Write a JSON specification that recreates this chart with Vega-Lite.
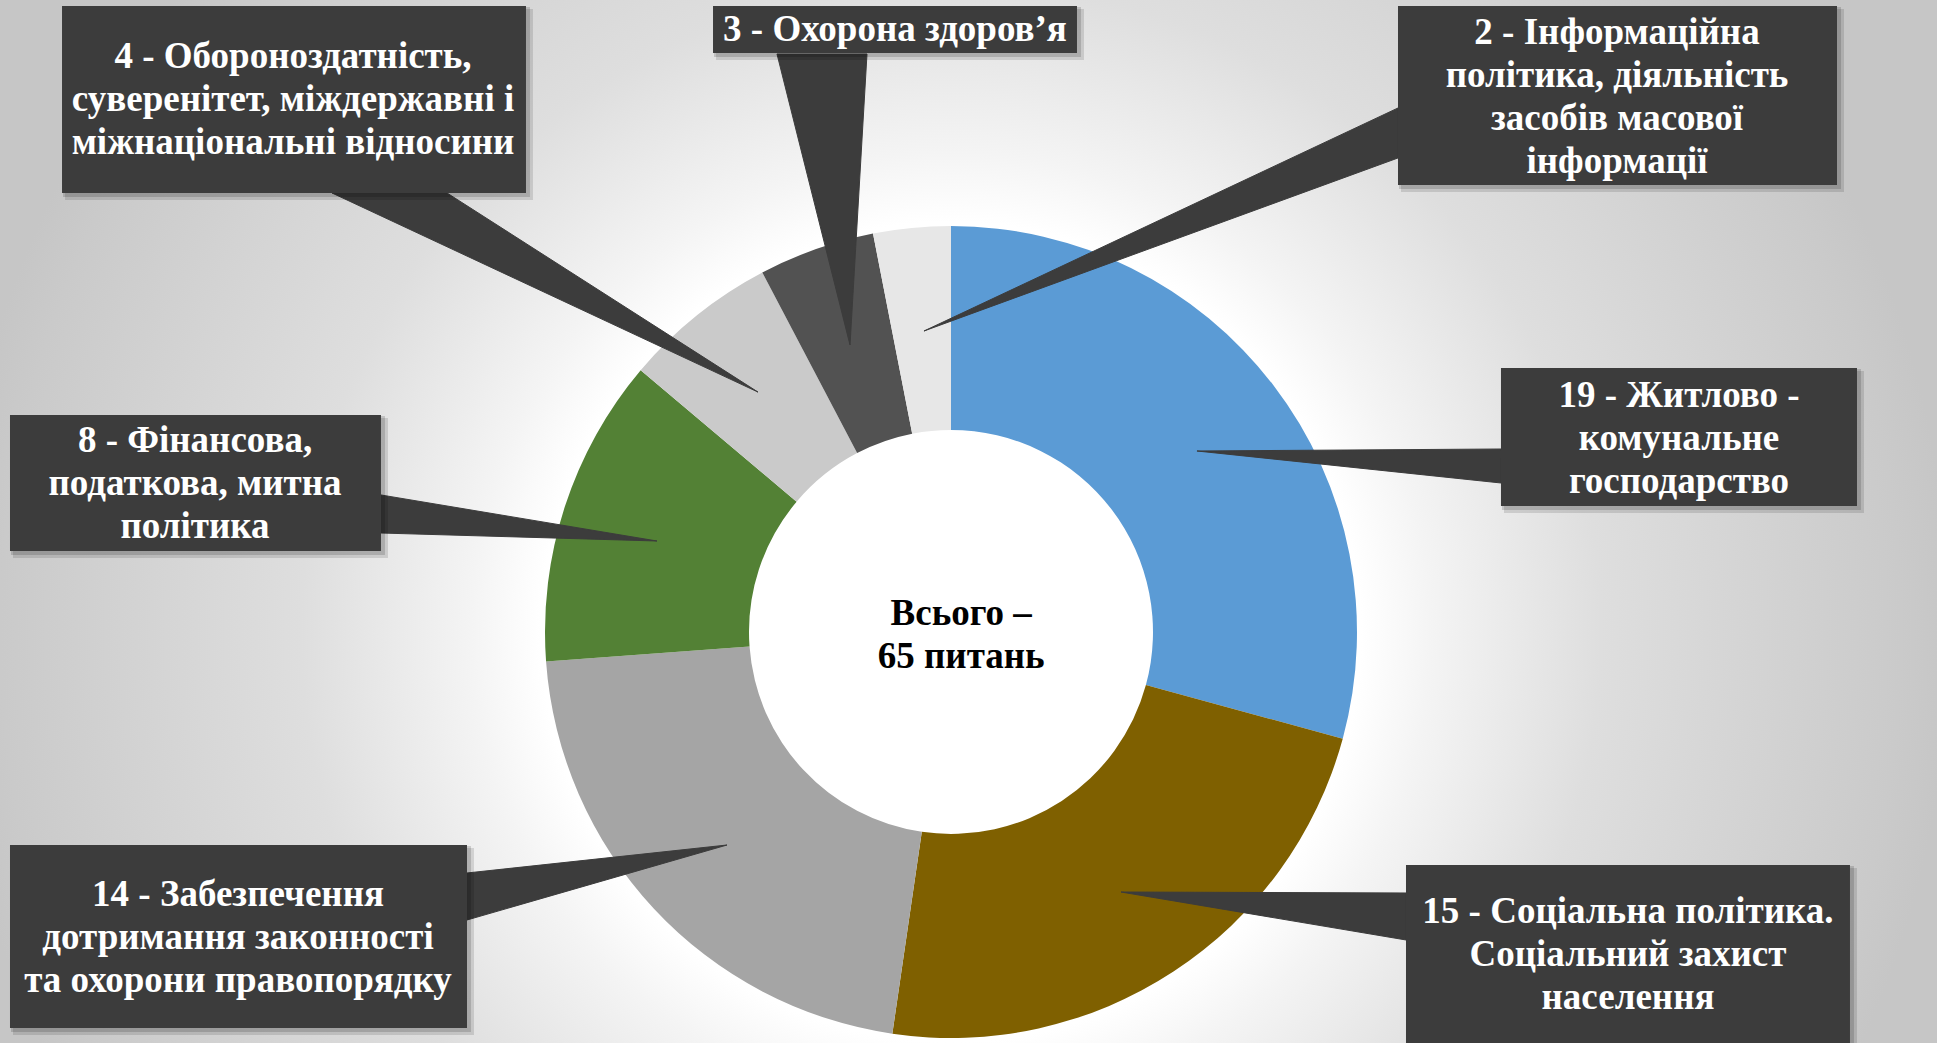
{
  "$schema": "https://vega.github.io/schema/vega-lite/v6.json",
  "width": 1937,
  "height": 1043,
  "autosize": {"type": "none"},
  "padding": 0,
  "background": "#ffffff",
  "config": {"view": {"stroke": null}},
  "datasets": {
    "slices": [
      {"cat": "Житлово-комунальне господарство", "value": 19},
      {"cat": "Соціальна політика. Соціальний захист населення", "value": 15},
      {"cat": "Забезпечення дотримання законності та охорони правопорядку", "value": 14},
      {"cat": "Фінансова, податкова, митна політика", "value": 8},
      {"cat": "Обороноздатність, суверенітет, міждержавні і міжнаціональні відносини", "value": 4},
      {"cat": "Охорона здоров’я", "value": 3},
      {"cat": "Інформаційна політика, діяльність засобів масової інформації", "value": 2}
    ],
    "boxes": [
      {"id": "2", "x1": 109.56, "x2": 217.16, "y1": 153.43, "y2": 109.56, "tx": 163.24, "ty": 146.8, "label": "2 - Інформаційна\nполітика, діяльність\nзасобів масової\nінформації"},
      {"id": "3", "x1": -58.33, "x2": 30.88, "y1": 153.43, "y2": 141.91, "tx": -13.73, "ty": 147.55, "label": "3 - Охорона здоров’я"},
      {"id": "4", "x1": -217.89, "x2": -104.17, "y1": 153.43, "y2": 107.6, "tx": -161.27, "ty": 140.9, "label": "4 - Обороноздатність,\nсуверенітет, міждержавні і\nміжнаціональні відносини"},
      {"id": "19", "x1": 134.8, "x2": 222.06, "y1": 64.71, "y2": 30.88, "tx": 178.43, "ty": 57.8, "label": "19 - Житлово -\nкомунальне\nгосподарство"},
      {"id": "8", "x1": -230.64, "x2": -139.71, "y1": 53.19, "y2": 19.85, "tx": -185.29, "ty": 46.8, "label": "8 - Фінансова,\nподаткова, митна\nполітика"},
      {"id": "14", "x1": -230.64, "x2": -118.63, "y1": -52.21, "y2": -97.06, "tx": -174.75, "ty": -64.5, "label": "14 - Забезпечення\nдотримання законності\nта охорони правопорядку"},
      {"id": "15", "x1": 111.52, "x2": 220.34, "y1": -57.11, "y2": -100.74, "tx": 165.93, "ty": -68.6, "label": "15 - Соціальна політика.\nСоціальний захист\nнаселення"}
    ],
    "pointers": [
      {"id": "2", "k": 1, "px": 109.56, "py": 128.43},
      {"id": "2", "k": 2, "px": -6.62, "py": 73.77},
      {"id": "2", "k": 3, "px": 109.56, "py": 116.18},
      {"id": "3", "k": 1, "px": -42.65, "py": 141.67},
      {"id": "3", "k": 2, "px": -24.75, "py": 70.34},
      {"id": "3", "k": 3, "px": -20.59, "py": 141.67},
      {"id": "4", "k": 1, "px": -151.72, "py": 107.6},
      {"id": "4", "k": 2, "px": -47.3, "py": 58.8},
      {"id": "4", "k": 3, "px": -123.53, "py": 107.6},
      {"id": "19", "k": 1, "px": 134.8, "py": 44.85},
      {"id": "19", "k": 2, "px": 60.29, "py": 44.36},
      {"id": "19", "k": 3, "px": 134.8, "py": 36.52},
      {"id": "15", "k": 1, "px": 111.52, "py": -63.97},
      {"id": "15", "k": 2, "px": 41.67, "py": -63.73},
      {"id": "15", "k": 3, "px": 111.52, "py": -75.49},
      {"id": "14", "k": 1, "px": -118.63, "py": -59.07},
      {"id": "14", "k": 2, "px": -54.9, "py": -52.21},
      {"id": "14", "k": 3, "px": -118.63, "py": -70.59},
      {"id": "8", "k": 1, "px": -139.71, "py": 33.58},
      {"id": "8", "k": 2, "px": -72.06, "py": 22.3},
      {"id": "8", "k": 3, "px": -139.71, "py": 24.26}
    ],
    "center": [
      {"label": "Всього –\n65 питань"}
    ]
  },
  "layer": [
    {
      "data": {"values": [{}]},
      "mark": {
        "type": "rect",
        "clip": true,
        "fill": {
          "gradient": "radial",
          "x1": 0.5, "y1": 0.5, "r1": 0,
          "x2": 0.5, "y2": 0.5, "r2": 0.5,
          "stops": [
            {"offset": 0, "color": "#ffffff"},
            {"offset": 0.41, "color": "#ffffff"},
            {"offset": 0.48, "color": "#f4f4f4"},
            {"offset": 0.65, "color": "#dedede"},
            {"offset": 0.95, "color": "#cacaca"},
            {"offset": 1, "color": "#c6c6c6"}
          ]
        }
      },
      "encoding": {
        "x": {"datum": -245.1, "type": "quantitative", "scale": {"domain": [-233.09, 241.67], "nice": false, "zero": false}, "axis": null},
        "x2": {"datum": 245.1},
        "y": {"datum": 245.1, "type": "quantitative", "scale": {"domain": [-100.74, 154.9], "nice": false, "zero": false}, "axis": null},
        "y2": {"datum": -245.1}
      }
    },
    {
      "data": {"name": "slices"},
      "mark": {"type": "arc", "radius": 406, "radius2": 202},
      "encoding": {
        "theta": {"field": "value", "type": "quantitative", "stack": true},
        "order": {"field": "value", "sort": "descending"},
        "color": {
          "field": "cat",
          "type": "nominal",
          "legend": null,
          "scale": {
            "domain": [
              "Житлово-комунальне господарство",
              "Соціальна політика. Соціальний захист населення",
              "Забезпечення дотримання законності та охорони правопорядку",
              "Фінансова, податкова, митна політика",
              "Обороноздатність, суверенітет, міждержавні і міжнаціональні відносини",
              "Охорона здоров’я",
              "Інформаційна політика, діяльність засобів масової інформації"
            ],
            "range": ["#5b9bd5", "#7f6000", "#a5a5a5", "#538135", "#cacaca", "#525252", "#e7e7e7"]
          }
        },
        "x": {"datum": 0, "type": "quantitative", "scale": {"domain": [-233.09, 241.67], "nice": false, "zero": false}, "axis": null},
        "y": {"datum": 0, "type": "quantitative", "scale": {"domain": [-100.74, 154.9], "nice": false, "zero": false}, "axis": null}
      }
    },
    {
      "data": {"name": "pointers"},
      "mark": {"type": "line", "interpolate": "linear-closed", "fill": "#3c3c3c", "stroke": "#3c3c3c", "strokeWidth": 1},
      "encoding": {
        "x": {"field": "px", "type": "quantitative", "scale": {"domain": [-233.09, 241.67], "nice": false, "zero": false}, "axis": null},
        "y": {"field": "py", "type": "quantitative", "scale": {"domain": [-100.74, 154.9], "nice": false, "zero": false}, "axis": null},
        "detail": {"field": "id", "type": "nominal"},
        "order": {"field": "k", "type": "quantitative"}
      }
    },
    {
      "data": {"name": "boxes"},
      "mark": {"type": "rect", "fill": "#000000", "opacity": 0.12, "xOffset": 3, "x2Offset": 7, "yOffset": 3, "y2Offset": 7},
      "encoding": {
        "x": {"field": "x1", "type": "quantitative", "scale": {"domain": [-233.09, 241.67], "nice": false, "zero": false}, "axis": null},
        "x2": {"field": "x2"},
        "y": {"field": "y1", "type": "quantitative", "scale": {"domain": [-100.74, 154.9], "nice": false, "zero": false}, "axis": null},
        "y2": {"field": "y2"}
      }
    },
    {
      "data": {"name": "boxes"},
      "mark": {"type": "rect", "fill": "#000000", "opacity": 0.15, "xOffset": 1, "x2Offset": 4, "yOffset": 1, "y2Offset": 4},
      "encoding": {
        "x": {"field": "x1", "type": "quantitative", "scale": {"domain": [-233.09, 241.67], "nice": false, "zero": false}, "axis": null},
        "x2": {"field": "x2"},
        "y": {"field": "y1", "type": "quantitative", "scale": {"domain": [-100.74, 154.9], "nice": false, "zero": false}, "axis": null},
        "y2": {"field": "y2"}
      }
    },
    {
      "data": {"name": "boxes"},
      "mark": {"type": "rect", "fill": "#3c3c3c"},
      "encoding": {
        "x": {"field": "x1", "type": "quantitative", "scale": {"domain": [-233.09, 241.67], "nice": false, "zero": false}, "axis": null},
        "x2": {"field": "x2"},
        "y": {"field": "y1", "type": "quantitative", "scale": {"domain": [-100.74, 154.9], "nice": false, "zero": false}, "axis": null},
        "y2": {"field": "y2"}
      }
    },
    {
      "data": {"name": "boxes"},
      "mark": {"type": "text", "lineBreak": "\n", "font": "Liberation Serif", "fontWeight": "bold", "fontSize": 37, "lineHeight": 43, "fill": "#ffffff", "align": "center", "baseline": "middle"},
      "encoding": {
        "x": {"field": "tx", "type": "quantitative", "scale": {"domain": [-233.09, 241.67], "nice": false, "zero": false}, "axis": null},
        "y": {"field": "ty", "type": "quantitative", "scale": {"domain": [-100.74, 154.9], "nice": false, "zero": false}, "axis": null},
        "text": {"field": "label", "type": "nominal"}
      }
    },
    {
      "data": {"name": "center"},
      "mark": {"type": "text", "lineBreak": "\n", "font": "Liberation Serif", "fontWeight": "bold", "fontSize": 37, "lineHeight": 43, "fill": "#000000", "align": "center", "baseline": "middle"},
      "encoding": {
        "x": {"datum": 2.5, "type": "quantitative", "scale": {"domain": [-233.09, 241.67], "nice": false, "zero": false}, "axis": null},
        "y": {"datum": 4.3, "type": "quantitative", "scale": {"domain": [-100.74, 154.9], "nice": false, "zero": false}, "axis": null},
        "text": {"field": "label", "type": "nominal"}
      }
    }
  ]
}
